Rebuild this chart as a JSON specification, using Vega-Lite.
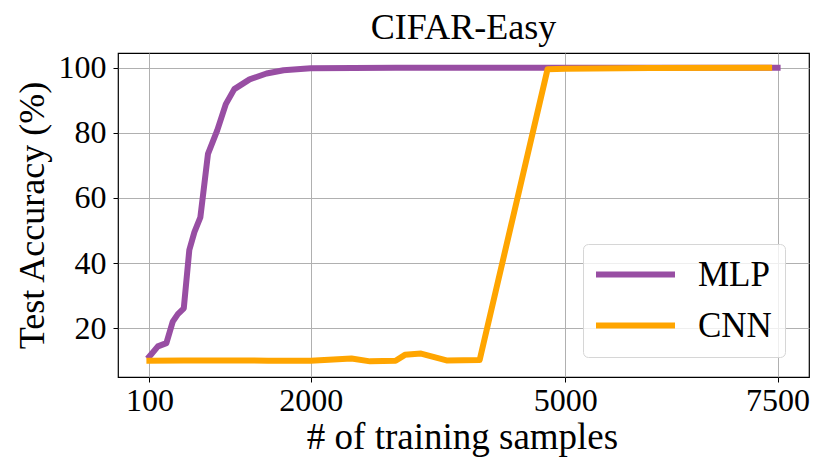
{
  "$schema": "https://vega.github.io/schema/vega-lite/v6.json",
  "autosize": "none",
  "width": 691,
  "height": 324,
  "padding": {"left": 118, "top": 53, "right": 21, "bottom": 98},
  "background": "white",
  "config": {
    "font": "Liberation Serif",
    "view": {"stroke": "black", "strokeWidth": 1.2}
  },
  "title": {
    "text": "CIFAR-Easy",
    "font": "Liberation Serif",
    "fontSize": 36,
    "fontWeight": "normal",
    "color": "black",
    "frame": "group",
    "anchor": "middle",
    "baseline": "bottom",
    "offset": 5,
    "dy": 36
  },
  "data": {
    "values": [
      {"model": "MLP", "samples": 100, "acc": 11.3},
      {"model": "MLP", "samples": 200, "acc": 14.4},
      {"model": "MLP", "samples": 300, "acc": 15.4},
      {"model": "MLP", "samples": 375, "acc": 22.0},
      {"model": "MLP", "samples": 435, "acc": 24.3},
      {"model": "MLP", "samples": 505, "acc": 26.1},
      {"model": "MLP", "samples": 570, "acc": 44.0},
      {"model": "MLP", "samples": 630, "acc": 49.5},
      {"model": "MLP", "samples": 700, "acc": 54.0},
      {"model": "MLP", "samples": 790, "acc": 73.5},
      {"model": "MLP", "samples": 900, "acc": 80.8},
      {"model": "MLP", "samples": 1000, "acc": 88.8},
      {"model": "MLP", "samples": 1100, "acc": 93.4},
      {"model": "MLP", "samples": 1280, "acc": 96.4},
      {"model": "MLP", "samples": 1480, "acc": 98.2},
      {"model": "MLP", "samples": 1680, "acc": 99.2},
      {"model": "MLP", "samples": 2000, "acc": 99.8},
      {"model": "MLP", "samples": 2500, "acc": 99.9},
      {"model": "MLP", "samples": 3000, "acc": 100},
      {"model": "MLP", "samples": 4000, "acc": 100},
      {"model": "MLP", "samples": 5000, "acc": 100},
      {"model": "MLP", "samples": 6000, "acc": 100},
      {"model": "MLP", "samples": 7500, "acc": 100},
      {"model": "CNN", "samples": 100, "acc": 10.0},
      {"model": "CNN", "samples": 500, "acc": 10.1},
      {"model": "CNN", "samples": 1000, "acc": 10.1},
      {"model": "CNN", "samples": 1500, "acc": 10.0},
      {"model": "CNN", "samples": 2000, "acc": 10.0},
      {"model": "CNN", "samples": 2480, "acc": 10.7},
      {"model": "CNN", "samples": 2700, "acc": 9.8},
      {"model": "CNN", "samples": 3000, "acc": 10.0},
      {"model": "CNN", "samples": 3110, "acc": 11.8},
      {"model": "CNN", "samples": 3300, "acc": 12.2},
      {"model": "CNN", "samples": 3600, "acc": 10.1},
      {"model": "CNN", "samples": 3990, "acc": 10.2},
      {"model": "CNN", "samples": 4790, "acc": 99.5},
      {"model": "CNN", "samples": 5000, "acc": 99.7},
      {"model": "CNN", "samples": 6000, "acc": 99.9},
      {"model": "CNN", "samples": 7400, "acc": 100}
    ]
  },
  "encoding": {
    "x": {
      "field": "samples",
      "type": "quantitative",
      "scale": {"domain": [-270, 7870], "nice": false, "zero": false},
      "axis": {
        "title": "# of training samples",
        "values": [100, 2000, 5000, 7500],
        "format": "d",
        "domain": false,
        "grid": true,
        "gridColor": "#b0b0b0",
        "gridWidth": 1,
        "tickColor": "black",
        "tickSize": 5,
        "tickWidth": 1,
        "labelFont": "Liberation Serif",
        "labelFontSize": 32,
        "labelColor": "black",
        "labelBaseline": "alphabetic",
        "labelPadding": 28,
        "labelFlush": false,
        "labelOverlap": false,
        "titleFont": "Liberation Serif",
        "titleFontSize": 37,
        "titleFontWeight": "normal",
        "titleColor": "black",
        "titleBaseline": "alphabetic",
        "titleX": 344,
        "titleY": 71
      }
    },
    "y": {
      "field": "acc",
      "type": "quantitative",
      "scale": {"domain": [5, 104.5], "nice": false, "zero": false},
      "axis": {
        "title": "Test Accuracy (%)",
        "values": [20, 40, 60, 80, 100],
        "format": "d",
        "domain": false,
        "grid": true,
        "gridColor": "#b0b0b0",
        "gridWidth": 1,
        "tickColor": "black",
        "tickSize": 5,
        "tickWidth": 1,
        "labelFont": "Liberation Serif",
        "labelFontSize": 32,
        "labelColor": "black",
        "labelBaseline": "middle",
        "labelPadding": 7,
        "labelFlush": false,
        "labelOverlap": false,
        "titleFont": "Liberation Serif",
        "titleFontSize": 36,
        "titleFontWeight": "normal",
        "titleColor": "black",
        "titleBaseline": "alphabetic",
        "titleAngle": -90,
        "titleAlign": "center",
        "titleX": -75,
        "titleY": 162
      }
    },
    "color": {
      "field": "model",
      "type": "nominal",
      "scale": {"domain": ["MLP", "CNN"], "range": ["#984ea3", "#ffa500"]},
      "legend": {
        "title": null,
        "orient": "none",
        "legendX": 465,
        "legendY": 191,
        "symbolType": "M-1.75,0H6.15",
        "symbolSize": 400,
        "symbolStrokeWidth": 6,
        "labelOffset": 67,
        "labelFont": "Liberation Serif",
        "labelFontSize": 35,
        "labelColor": "black",
        "rowPadding": 15,
        "padding": 13,
        "fillColor": "rgba(255,255,255,0.8)",
        "strokeColor": "#d6d6d6",
        "cornerRadius": 5
      }
    }
  },
  "layer": [
    {
      "transform": [{"filter": "datum.model === 'MLP'"}],
      "mark": {"type": "line", "strokeWidth": 6, "strokeCap": "square", "strokeJoin": "round"}
    },
    {
      "transform": [{"filter": "datum.model === 'CNN'"}],
      "mark": {"type": "line", "strokeWidth": 6, "strokeCap": "square", "strokeJoin": "round"}
    }
  ]
}
